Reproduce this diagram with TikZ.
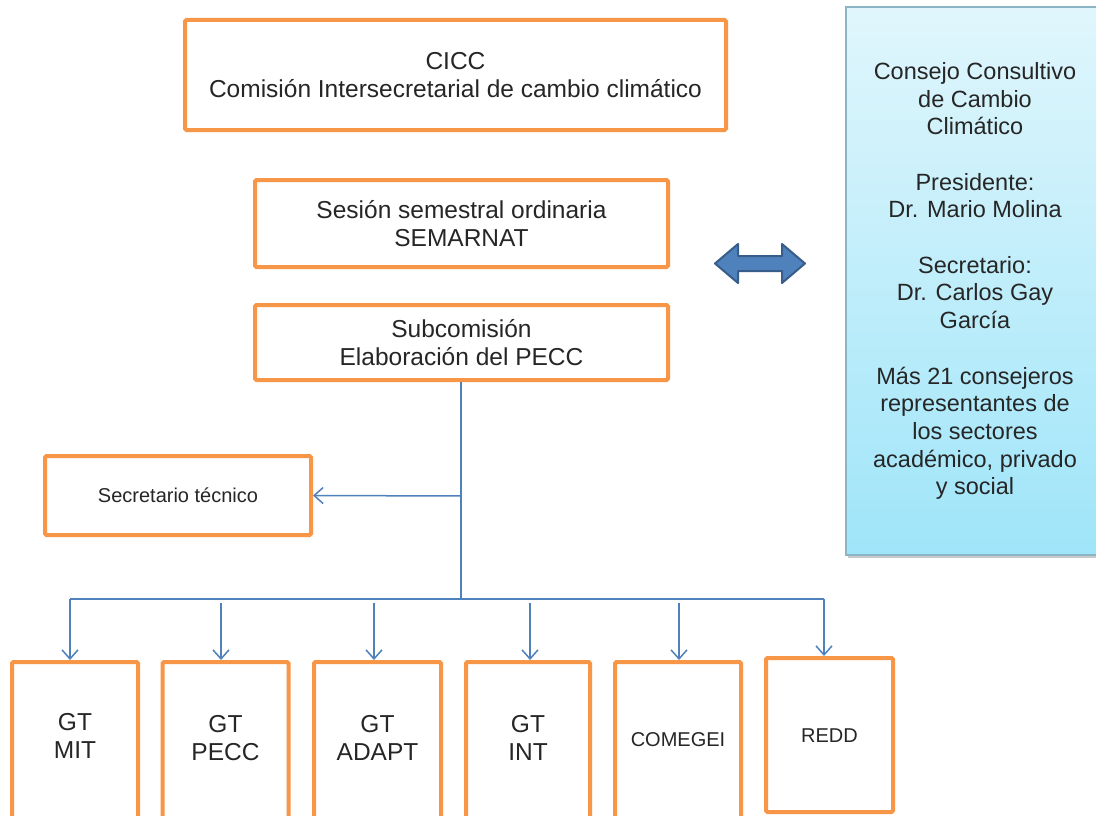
\documentclass[tikz,border=0pt]{standalone}
\usepackage{fontspec}
\setmainfont{Liberation Sans}
\usetikzlibrary{arrows.meta,shadows}
\definecolor{orangeb}{HTML}{F79646}
\definecolor{blueln}{HTML}{4F81BD}
\definecolor{arrowfill}{HTML}{4F81BD}
\definecolor{arrowdraw}{HTML}{385D8A}
\definecolor{txt}{HTML}{262626}
\definecolor{cctop}{HTML}{E0F6FC}
\definecolor{ccbot}{HTML}{9FE5F9}
\definecolor{ccborder}{HTML}{8CB4C4}
\begin{document}
\begin{tikzpicture}[x=1pt,y=-1pt,
  box/.style={draw=orangeb, line width=4pt, fill=white, rounded corners=1.5pt, inner sep=0pt, text=txt, align=center},
  big/.style={font=\fontsize{24.5pt}{27.5pt}\selectfont},
  small/.style={font=\fontsize{20pt}{24pt}\selectfont},
  lbl/.style={text=txt, align=center, inner sep=0pt},
  conn/.style={draw=blueln, line width=1.5pt},
  arr/.style={conn, -{Straight Barb[length=9pt,width=16pt,line width=1.5pt]}},
]
\useasboundingbox (0,0) rectangle (1096,816);
\fill[white] (0,0) rectangle (1096,816);

% top boxes
\node[box, big, minimum width=541, minimum height=110] (cicc) at (455.5,75)
  {CICC\\Comisión Intersecretarial de cambio climático};
\node[box, big, minimum width=413, minimum height=87] (ses) at (461.5,223.5)
  {Sesión semestral ordinaria\\SEMARNAT};
\node[box, big, minimum width=413, minimum height=75] (sub) at (461.5,342.5)
  {Subcomisión\\Elaboración del PECC};
\node[box, small, minimum width=266, minimum height=79] (sec) at (178,495.5)
  {Secretario técnico};

% right box
\node[draw=ccborder, line width=1.5pt, top color=cctop, bottom color=ccbot,
  minimum width=258, minimum height=548, inner sep=0pt, text=txt, align=center,
  font=\fontsize{23.5pt}{27.7pt}\selectfont,
  drop shadow={shadow xshift=2pt, shadow yshift=-3pt, opacity=0.35, fill=black!60}] (cc) at (975,281)
  {Consejo Consultivo\\de Cambio\\Climático\\[27.7pt]Presidente:\\Dr. Mario Molina\\[27.7pt]Secretario:\\Dr. Carlos Gay\\García\\[27.7pt]Más 21 consejeros\\representantes de\\los sectores\\académico, privado\\y social};

% double arrow
\draw[fill=arrowfill, draw=arrowdraw, line width=2pt, line join=round]
  (715,263.5) -- (738,244) -- (738,256) -- (782,256) -- (782,244) -- (805,263.5)
  -- (782,283) -- (782,271) -- (738,271) -- (738,283) -- cycle;

% bottom boxes
\node[box, minimum width=126, minimum height=158] (mit) at (75,741) {};
\node[box, minimum width=126, minimum height=158] (pecc) at (225.5,741) {};
\node[box, minimum width=127, minimum height=158] (adapt) at (377.5,741) {};
\node[box, minimum width=124, minimum height=158] (int) at (528,741) {};
\node[box, minimum width=126, minimum height=158] (comegei) at (678,741) {};
\node[box, minimum width=127, minimum height=154] (redd) at (829.5,735) {};

\node[lbl, big] (mitT) at (75,736) {GT\\MIT};
\node[lbl, big] (peccT) at (225.5,738) {GT\\PECC};
\node[lbl, big] (adaptT) at (377.5,738) {GT\\ADAPT};
\node[lbl, big] (intT) at (528,738) {GT\\INT};
\node[lbl, small] (comegeiT) at (678,740) {COMEGEI};
\node[lbl, small] (reddT) at (829.5,736) {REDD};

% connectors
\coordinate (top) at (461,382);
\coordinate (j) at (461,599);
\coordinate (b) at (461,496);
\coordinate (hl) at (70,599);
\coordinate (hr) at (824,599);
\draw[conn] (top) -- (j);
\draw[arr] (b) -- (sec.east);
\draw[conn] (hl) -- (hr);
\draw[arr] (hl) -- (hl |- mit.north);
\draw[arr] (hr) -- (hr |- redd.north);
\coordinate (s2) at (221,603);
\coordinate (s3) at (374,603);
\coordinate (s4) at (530,603);
\coordinate (s5) at (679,603);
\draw[arr] (s2) -- (s2 |- pecc.north);
\draw[arr] (s3) -- (s3 |- adapt.north);
\draw[arr] (s4) -- (s4 |- int.north);
\draw[arr] (s5) -- (s5 |- comegei.north);
\end{tikzpicture}
\end{document}
